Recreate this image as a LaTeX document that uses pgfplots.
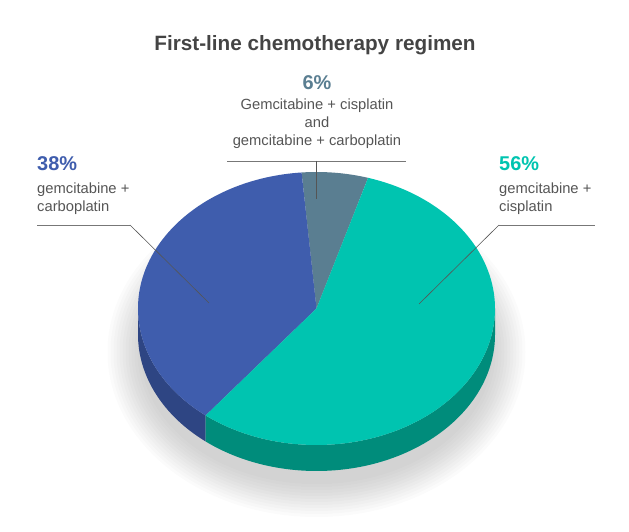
\documentclass[border=0pt]{standalone}
\usepackage{pgfplots}
\pgfplotsset{compat=1.18}
\usepackage{pgfplotstable}
\usepackage{fontspec}
\setmainfont{Liberation Sans}

\definecolor{cTeal}{HTML}{00C4B0}
\definecolor{cTealSide}{HTML}{008C7B}
\definecolor{cBlue}{HTML}{3F5DAD}
\definecolor{cBlueSide}{HTML}{2E4583}
\definecolor{cGray}{HTML}{5A7E91}
\definecolor{cTitle}{HTML}{444444}
\definecolor{cLab}{HTML}{555555}
\definecolor{cLine}{HTML}{777777}

% share of each regimen, in percent
\pgfplotstableread{
label value
both 6
carbo 38
cis 56
}\piedata

% slice angles (top face drawn as an ellipse)
\pgfplotstablegetelem{0}{value}\of\piedata \let\vA\pgfplotsretval
\pgfplotstablegetelem{1}{value}\of\piedata \let\vB\pgfplotsretval
\pgfplotstablegetelem{2}{value}\of\piedata \let\vC\pgfplotsretval
\pgfmathsetmacro\aA{73.2}
\pgfmathsetmacro\aB{\aA+3.6*\vA}
\pgfmathsetmacro\aC{\aB+3.6*\vB}
\pgfmathsetmacro\aD{\aC+3.6*\vC}
\def\rx{178.5bp}
\def\ry{136.5bp}

\begin{document}%
\begin{tikzpicture}
\path[use as bounding box] (0,0) rectangle (629bp,532bp);
\begin{axis}[
    at={(0,0)}, anchor=south west,
    width=629bp, height=532bp, scale only axis,
    xmin=0, xmax=629, ymin=0, ymax=532,
    xtick=\empty, ytick=\empty,
    hide axis, clip=false
  ]
  \addplot[draw=none, no marks] coordinates {(0,0) (629,532)};

  % soft shadow
  \pgfplotsinvokeforeach{0,...,11}{
    \fill[black, opacity=0.016] (axis cs:316.5,180) ellipse [x radius={176bp+3bp*#1}, y radius={132bp+3bp*#1}];
  }

  % sides
  \fill[cBlueSide] (axis cs:316.5,223.5) ++(180:178.5bp and 136.5bp)
    arc[start angle=180, end angle=\aC, x radius=\rx, y radius=\ry]
    -- ++(0,-26bp)
    arc[start angle=\aC, end angle=180, x radius=\rx, y radius=\ry] -- cycle;
  \fill[cTealSide] (axis cs:316.5,223.5) ++(\aC:178.5bp and 136.5bp)
    arc[start angle=\aC, end angle=360, x radius=\rx, y radius=\ry]
    -- ++(0,-26bp)
    arc[start angle=360, end angle=\aC, x radius=\rx, y radius=\ry] -- cycle;

  % top face
  \fill[cGray] (axis cs:316.5,223.5) -- ++(\aA:178.5bp and 136.5bp)
    arc[start angle=\aA, end angle=\aB, x radius=\rx, y radius=\ry] -- cycle;
  \fill[cBlue] (axis cs:316.5,223.5) -- ++(\aB:178.5bp and 136.5bp)
    arc[start angle=\aB, end angle=\aC, x radius=\rx, y radius=\ry] -- cycle;
  \fill[cTeal] (axis cs:316.5,223.5) -- ++(\aC:178.5bp and 136.5bp)
    arc[start angle=\aC, end angle=\aD, x radius=\rx, y radius=\ry] -- cycle;

  % title
  \node[anchor=base, text=cTitle, font=\fontsize{20.8}{23}\selectfont\bfseries]
    at (axis cs:315,481) {First-line chemotherapy regimen};

  % top label
  \node[anchor=base, text=cGray, font=\fontsize{20}{22}\selectfont\bfseries] at (axis cs:317,442) {6\%};
  \node[anchor=base, text=cLab, font=\fontsize{14.8}{16}\selectfont] at (axis cs:317,422) {Gemcitabine + cisplatin};
  \node[anchor=base, text=cLab, font=\fontsize{14.8}{16}\selectfont] at (axis cs:317,404) {and};
  \node[anchor=base, text=cLab, font=\fontsize{14.8}{16}\selectfont] at (axis cs:317,386) {gemcitabine + carboplatin};
  \draw[cLine, line width=0.9pt] (axis cs:227,371) -- (axis cs:406,371);
  \draw[cLab, line width=0.6pt] (axis cs:316.5,371) -- (axis cs:316.5,333);

  % left label
  \node[anchor=base west, inner sep=0pt, text=cBlue, font=\fontsize{20}{22}\selectfont\bfseries] at (axis cs:37,361) {38\%};
  \node[anchor=base west, inner sep=0pt, text=cLab, font=\fontsize{14.8}{16}\selectfont] at (axis cs:37,338) {gemcitabine +};
  \node[anchor=base west, inner sep=0pt, text=cLab, font=\fontsize{14.8}{16}\selectfont] at (axis cs:37,320) {carboplatin};
  \draw[cLine, line width=0.9pt] (axis cs:37,307) -- (axis cs:130,307);
  \draw[cLab, line width=0.6pt] (axis cs:130,307) -- (axis cs:209,229);

  % right label
  \node[anchor=base west, inner sep=0pt, text=cTeal, font=\fontsize{20}{22}\selectfont\bfseries] at (axis cs:499,361) {56\%};
  \node[anchor=base west, inner sep=0pt, text=cLab, font=\fontsize{14.8}{16}\selectfont] at (axis cs:499,338) {gemcitabine +};
  \node[anchor=base west, inner sep=0pt, text=cLab, font=\fontsize{14.8}{16}\selectfont] at (axis cs:499,320) {cisplatin};
  \draw[cLine, line width=0.9pt] (axis cs:499,307) -- (axis cs:595,307);
  \draw[cLab, line width=0.6pt] (axis cs:499,307) -- (axis cs:419,228);
\end{axis}
\end{tikzpicture}%
\end{document}
